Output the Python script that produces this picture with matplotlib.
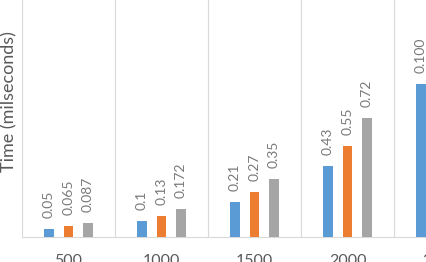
import numpy as np
import matplotlib.pyplot as plt

plt.rcParams['font.family'] = ['Lato', 'DejaVu Sans']

# data
categories = ['500', '1000', '1500', '2000', '3000']
blue_vals = [0.05, 0.1, 0.21, 0.43, 0.93]
blue_labels = ['0.05', '0.1', '0.21', '0.43', '0.100']
orange_vals = [0.065, 0.13, 0.27, 0.55, np.nan]
orange_labels = ['0.065', '0.13', '0.27', '0.55', '']
gray_vals = [0.087, 0.172, 0.35, 0.72, np.nan]
gray_labels = ['0.087', '0.172', '0.35', '0.72', '']

txt_color = '#595959'
grid_color = '#d9d9d9'

fig = plt.figure(figsize=(4.27, 2.62), dpi=100)
# plot area is larger than the visible crop
ax = fig.add_axes([22/427, 25/262, 465/427, 264/262])

x = np.arange(len(categories))
w = 0.107
off = 0.21
series = [(blue_vals, blue_labels, '#5B9BD5', -off),
          (orange_vals, orange_labels, '#ED7D31', 0),
          (gray_vals, gray_labels, '#A5A5A5', off)]

for vals, labs, col, dx in series:
    ax.bar(x + dx, vals, width=w, color=col, zorder=3)
    for xi, v, lab in zip(x, vals, labs):
        if np.isnan(v) or not lab:
            continue
        ax.annotate(lab, (xi + dx, v), xytext=(0, 11), textcoords='offset pixels',
                    rotation=90, ha='center', va='bottom', fontsize=10,
                    color='#7a7a7a')

ax.set_xlim(-0.5, len(categories) - 0.5)
ax.set_ylim(0, 1.6)
ax.set_xticks(x)
ax.set_xticklabels(categories, fontsize=11.5, color=txt_color)
ax.tick_params(axis='x', length=0, pad=12)
ax.set_xticks(np.arange(-0.5, len(categories)), minor=True)
ax.tick_params(axis='x', which='minor', length=0)
ax.grid(True, axis='x', which='minor', color=grid_color, lw=0.8, zorder=0)
ax.set_yticks([])
for s in ['top', 'left', 'right']:
    ax.spines[s].set_visible(False)
ax.spines['bottom'].set_color(grid_color)
ax.spines['bottom'].set_linewidth(0.8)

fig.text(9/427, 1 - 102/262, 'Time (milseconds)', rotation=90, ha='center', va='center',
         fontsize=13, color=txt_color)

fig.savefig('out.png', dpi=100)
